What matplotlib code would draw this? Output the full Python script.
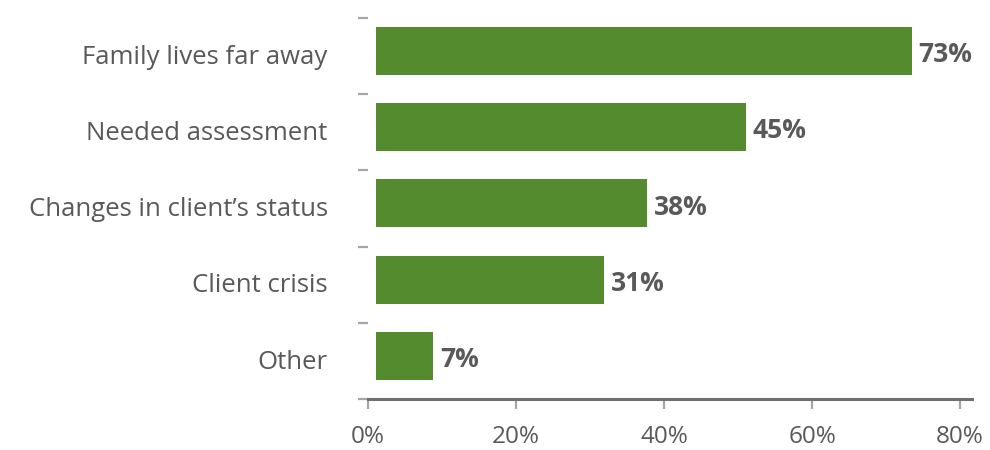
import matplotlib
matplotlib.use("Agg")
import matplotlib.pyplot as plt
import numpy as np

categories = ["Family lives far away", "Needed assessment", "Changes in client\u2019s status",
              "Client crisis", "Other"]
values = [72.4, 49.9, 36.6, 30.8, 7.7]          # bar lengths as drawn
value_labels = ["73%", "45%", "38%", "31%", "7%"]
xticks = [0, 20, 40, 60, 80]
xtick_labels = ["0%", "20%", "40%", "60%", "80%"]

plt.rcParams['font.family'] = ['Open Sans', 'DejaVu Sans']

fig = plt.figure(figsize=(9.9, 4.5), dpi=100)
ax = fig.add_axes([368/990, 1-399/450, (972-368)/990, (399-18)/450])

n = len(categories)
y = np.arange(n)
bar_left = 1.1
ax.barh(y, values, left=bar_left, height=0.63, color='#558B2F')
tick_shift = 0.068
ax.set_ylim(n - 0.5 + tick_shift, -0.5 + tick_shift - 0.001)
ax.set_xlim(0, 81.6)

for yi, v, lab in zip(y, values, value_labels):
    ax.text(bar_left + v + 0.9, yi + 0.05, lab, va='center', ha='left',
            fontsize=19, fontweight='bold', color='#595959')

# spines
for s in ['top', 'right', 'left']:
    ax.spines[s].set_visible(False)
ax.spines['bottom'].set_color('#6E6E73')
ax.spines['bottom'].set_linewidth(2.2)

ax.set_xticks(xticks)
ax.set_xticklabels(xtick_labels, fontsize=17.5, color='#595959')
ax.tick_params(axis='x', direction='out', length=7, width=1.6, color='#A6A6A6', pad=12)

# y: boundary ticks (major, unlabeled), labels as minor ticks
ax.set_yticks(np.arange(-0.5, n, 1.0) + tick_shift)
ax.set_yticklabels([])
ax.tick_params(axis='y', which='major', direction='out', length=7, width=1.6, color='#A6A6A6')
ax.set_yticks(y + 0.045, minor=True)
ax.set_yticklabels(categories, minor=True, fontsize=18.5, color='#595959')
ax.tick_params(axis='y', which='minor', length=0, pad=29)

fig.savefig("out.png", dpi=100)
